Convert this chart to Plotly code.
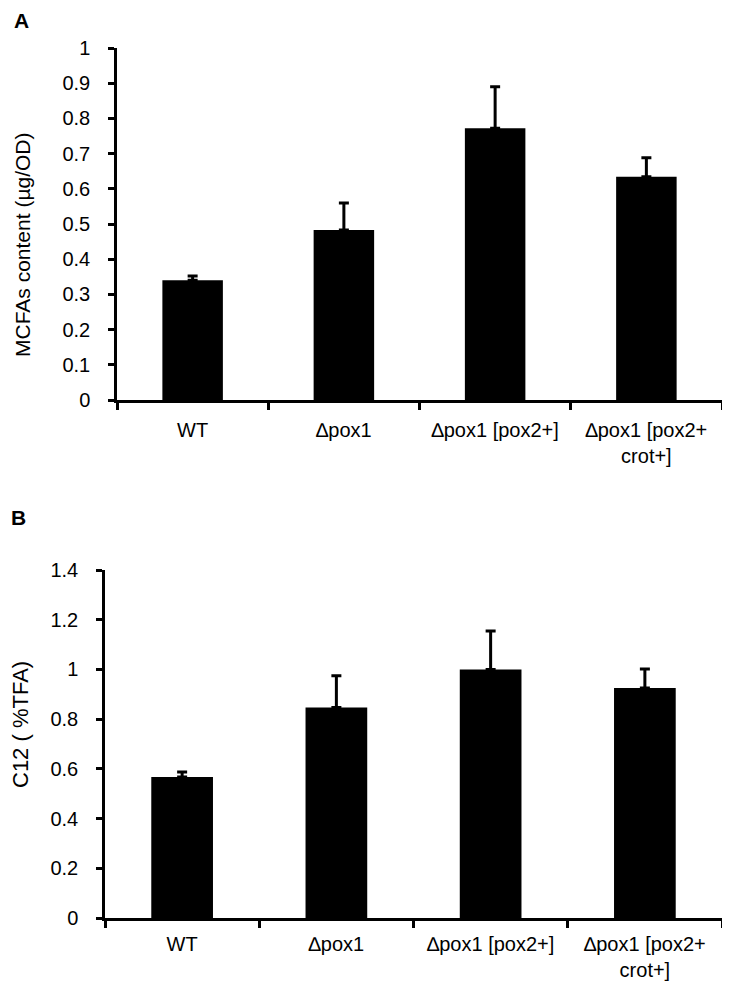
import plotly.graph_objects as go

categories = ["WT", "∆pox1", "∆pox1 [pox2+]", "∆pox1 [pox2+<br>crot+]"]
mcfa_values = [0.34, 0.483, 0.772, 0.634]
mcfa_errors = [0.012, 0.077, 0.118, 0.054]
c12_values = [0.567, 0.847, 1.0, 0.925]
c12_errors = [0.02, 0.128, 0.155, 0.077]

# the page body has an 8px margin: shift everything by it
OFF = 8
W, H = 730 - OFF, 987 - OFF
FONT = "Liberation Sans, Arial, sans-serif"


def fx(px):
    return (px - OFF) / W


def fy(py):
    return 1 - (py - OFF) / H


pos = list(range(len(categories)))
bounds = [p - 0.5 for p in pos] + [pos[-1] + 0.5]

fig = go.Figure()
for vals, errs, xa, ya in [(mcfa_values, mcfa_errors, "x", "y"),
                           (c12_values, c12_errors, "x2", "y2")]:
    fig.add_trace(go.Bar(
        x=pos, y=vals, width=0.4, xaxis=xa, yaxis=ya,
        marker=dict(color="black", line=dict(width=0)),
        error_y=dict(type="data", array=errs, arrayminus=[0] * len(errs),
                     symmetric=False, color="black", thickness=3, width=5),
        showlegend=False))


def xaxis(dom, anchor, standoff):
    return dict(domain=dom, anchor=anchor, range=[-0.5, len(pos) - 0.5],
                tickmode="array", tickvals=pos, ticktext=categories, ticks="",
                showline=True, linecolor="black", linewidth=2.5, showgrid=False,
                zeroline=False, ticklabelstandoff=standoff, automargin=False,
                tickfont=dict(family=FONT, size=20, color="black"),
                minor=dict(tickmode="array", tickvals=bounds, ticks="outside",
                           ticklen=7, tickwidth=2.5, tickcolor="black", showgrid=False))


def yaxis(dom, anchor, rng, dt):
    return dict(domain=dom, anchor=anchor, range=rng, dtick=dt, tick0=0,
                showline=True, linecolor="black", linewidth=2.5, ticks="outside",
                ticklen=6, tickwidth=2.5, tickcolor="black", showgrid=False,
                zeroline=False, ticklabelstandoff=14, automargin=False,
                tickfont=dict(family=FONT, size=20, color="black"))


fig.update_layout(
    width=W, height=H, margin=dict(l=0, r=0, t=0, b=0, pad=0), autosize=False,
    paper_bgcolor="white", plot_bgcolor="white",
    xaxis=xaxis([fx(117), fx(722)], "y", 10),
    yaxis=yaxis([fy(400), fy(48)], "x", [0, 1], 0.1),
    xaxis2=xaxis([fx(105), fx(722)], "y2", 6),
    yaxis2=yaxis([fy(918), fy(570)], "x2", [0, 1.4], 0.2),
    annotations=[
        dict(text="<b>A</b>", x=fx(13), y=1, xref="paper", yref="paper",
             showarrow=False, xanchor="left", yanchor="top", borderpad=0,
             font=dict(family=FONT, size=21, color="black")),
        dict(text="<b>B</b>", x=fx(9), y=fy(518), xref="paper", yref="paper",
             showarrow=False, xanchor="left", yanchor="middle",
             font=dict(family=FONT, size=21, color="black")),
        dict(text="MCFAs content (µg/OD)", x=fx(22), y=fy(245), xref="paper",
             yref="paper", showarrow=False, textangle=-90, xanchor="center",
             yanchor="middle", font=dict(family=FONT, size=21, color="black")),
        dict(text="C12 ( %TFA)", x=fx(20), y=fy(725), xref="paper",
             yref="paper", showarrow=False, textangle=-90, xanchor="center",
             yanchor="middle", font=dict(family=FONT, size=22, color="black")),
    ],
)

fig.write_html("out.html")
